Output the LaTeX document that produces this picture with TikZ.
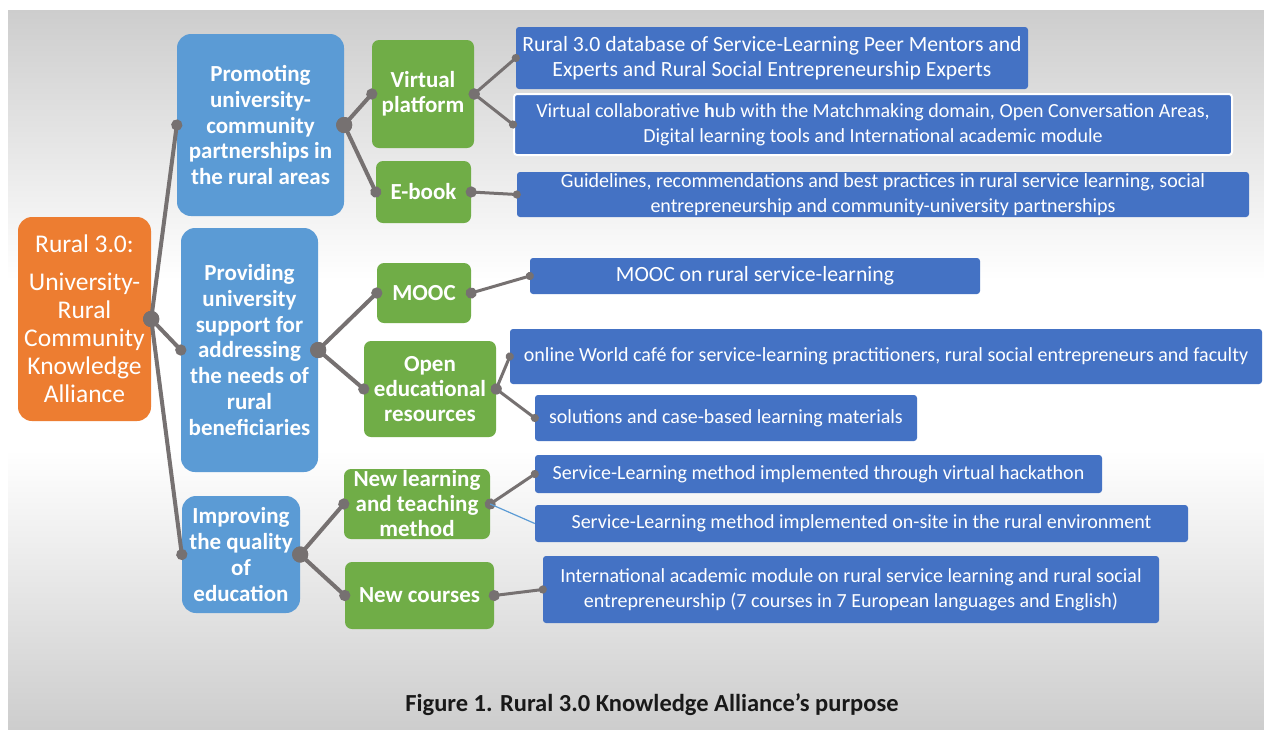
\documentclass[tikz,border=0pt]{standalone}
\usepackage{fontspec}
\setmainfont{Carlito}
\usetikzlibrary{arrows.meta}

\definecolor{rootorange}{HTML}{ED7D31}
\definecolor{goalblue}{HTML}{5B9BD5}
\definecolor{toolgreen}{HTML}{70AD47}
\definecolor{itemblue}{HTML}{4472C4}
\definecolor{linkgray}{HTML}{767171}
\definecolor{panelgray}{HTML}{CDCDCD}

\begin{document}
\begin{tikzpicture}[x=1pt,y=-1pt,every node/.style={align=center,text=white,inner sep=0pt},
    rootbox/.style={fill=rootorange,rounded corners=14pt,font=\fontsize{25.5}{28}\selectfont},
    goalbox/.style={fill=goalblue,rounded corners=14pt,font=\bfseries\fontsize{23}{25.8}\selectfont},
    toolbox/.style={fill=toolgreen,rounded corners=7pt,font=\bfseries\fontsize{23}{25}\selectfont},
    itembox/.style={fill=itemblue,rounded corners=3pt,font=\fontsize{20}{25}\selectfont},
    bigitem/.style={itembox,font=\fontsize{21.7}{25}\selectfont},
    trunk/.style={draw=linkgray,line width=4pt,{Circle[length=16pt]}-{Circle[length=11pt]},shorten <=-8pt,shorten >=-5.5pt},
    twig/.style={draw=linkgray,line width=3pt,{Circle[length=11pt]}-{Circle[length=8pt]},shorten <=-5.5pt,shorten >=-4pt}]

    \useasboundingbox (0,0) rectangle (1264,729);
    \shade[top color=panelgray,bottom color=white] (8,10) rectangle (1264,280);
    \fill[white] (8,279) rectangle (1264,451);
    \shade[top color=white,bottom color=panelgray] (8,450) rectangle (1264,729);

    \node[rootbox,minimum width=133pt,minimum height=204pt] (root) at (84.5,319) {Rural 3.0:\\[10pt] University-\\ Rural\\ Community\\ Knowledge\\ Alliance};

    \node[goalbox,minimum width=167pt,minimum height=182pt] (prom) at (260.5,125) {Promoting\\ university-\\ community\\ partnerships in\\ the rural areas};
    \node[goalbox,minimum width=137pt,minimum height=244pt] (prov) at (249.5,350) {Providing\\ university\\ support for\\ addressing\\ the needs of\\ rural\\ beneficiaries};
    \node[goalbox,minimum width=118pt,minimum height=117pt] (impr) at (241,554.5) {Improving\\ the quality\\ of\\ education};

    \node[toolbox,minimum width=102pt,minimum height=108pt] (virt) at (423,94) {Virtual\\ platform};
    \node[toolbox,minimum width=95pt,minimum height=62pt] (ebook) at (423.5,192) {E-book};
    \node[toolbox,minimum width=94pt,minimum height=60pt] (mooc) at (424,293) {MOOC};
    \node[toolbox,minimum width=132pt,minimum height=96pt] (oer) at (430,389) {Open\\ educational\\ resources};
    \node[toolbox,minimum width=146pt,minimum height=70pt] (newl) at (417,504) {New learning\\ and teaching\\ method};
    \node[toolbox,minimum width=149pt,minimum height=67pt] (newc) at (419.5,595.5) {New courses};

    \node[bigitem,minimum width=512pt,minimum height=62pt] (dbase) at (772,58) {Rural 3.0 database of Service-Learning Peer Mentors and\\ Experts and Rural Social Entrepreneurship Experts};
    \node[itembox,draw=white,line width=2pt,minimum width=718pt,minimum height=61pt] (hub) at (873,124.5) {Virtual collaborative \textbf{h}ub with the Matchmaking domain, Open Conversation Areas,\\ Digital learning tools and International academic module};
    \node[itembox,minimum width=732pt,minimum height=45pt] (guide) at (883,194.5) {Guidelines, recommendations and best practices in rural service learning, social\\ entrepreneurship and community-university partnerships};
    \node[bigitem,minimum width=450pt,minimum height=36pt] (moocl) at (755,276) {MOOC on rural service-learning};
    \node[itembox,minimum width=752pt,minimum height=55pt] (cafe) at (886,356.5) {online World café for service-learning practitioners, rural social entrepreneurs and faculty};
    \node[itembox,minimum width=382pt,minimum height=46pt] (solu) at (726,418) {solutions and case-based learning materials};
    \node[itembox,minimum width=567pt,minimum height=38pt] (hack) at (818.5,474) {Service-Learning method implemented through virtual hackathon};
    \node[itembox,minimum width=653pt,minimum height=37pt] (site) at (861.5,523.5) {Service-Learning method implemented on-site in the rural environment};
    \node[itembox,minimum width=616pt,minimum height=67pt] (modu) at (851,589.5) {International academic module on rural service learning and rural social\\ entrepreneurship (7 courses in 7 European languages and English)};

    \draw[trunk] (root.east) -- (prom.west);
    \draw[trunk] (root.east) -- (prov.west);
    \draw[trunk] (root.east) -- (impr.west);

    \draw[trunk] (prom.east) -- (virt.west);
    \draw[trunk] (prom.east) -- (ebook.west);
    \draw[trunk] (prov.east) -- (mooc.west);
    \draw[trunk] (prov.east) -- (oer.west);
    \draw[trunk] (impr.east) -- (newl.west);
    \draw[trunk] (impr.east) -- (newc.west);

    \draw[twig] (virt.east) -- (dbase.west);
    \draw[twig] (virt.east) -- (hub.west);
    \draw[twig] (ebook.east) -- (guide.west);
    \draw[twig] (mooc.east) -- (moocl.west);
    \draw[twig] (oer.east) -- (cafe.west);
    \draw[twig] (oer.east) -- (solu.west);
    \draw[twig] (newl.east) -- (hack.west);
    \draw[goalblue,line width=1.2pt] (newl.east) -- (site.west);
    \draw[twig] (newc.east) -- (modu.west);

    \node[text=black!90,font=\bfseries\fontsize{24.5}{28}\selectfont] (title) at (652,705) {Figure 1. Rural 3.0 Knowledge Alliance’s purpose};
\end{tikzpicture}
\end{document}
